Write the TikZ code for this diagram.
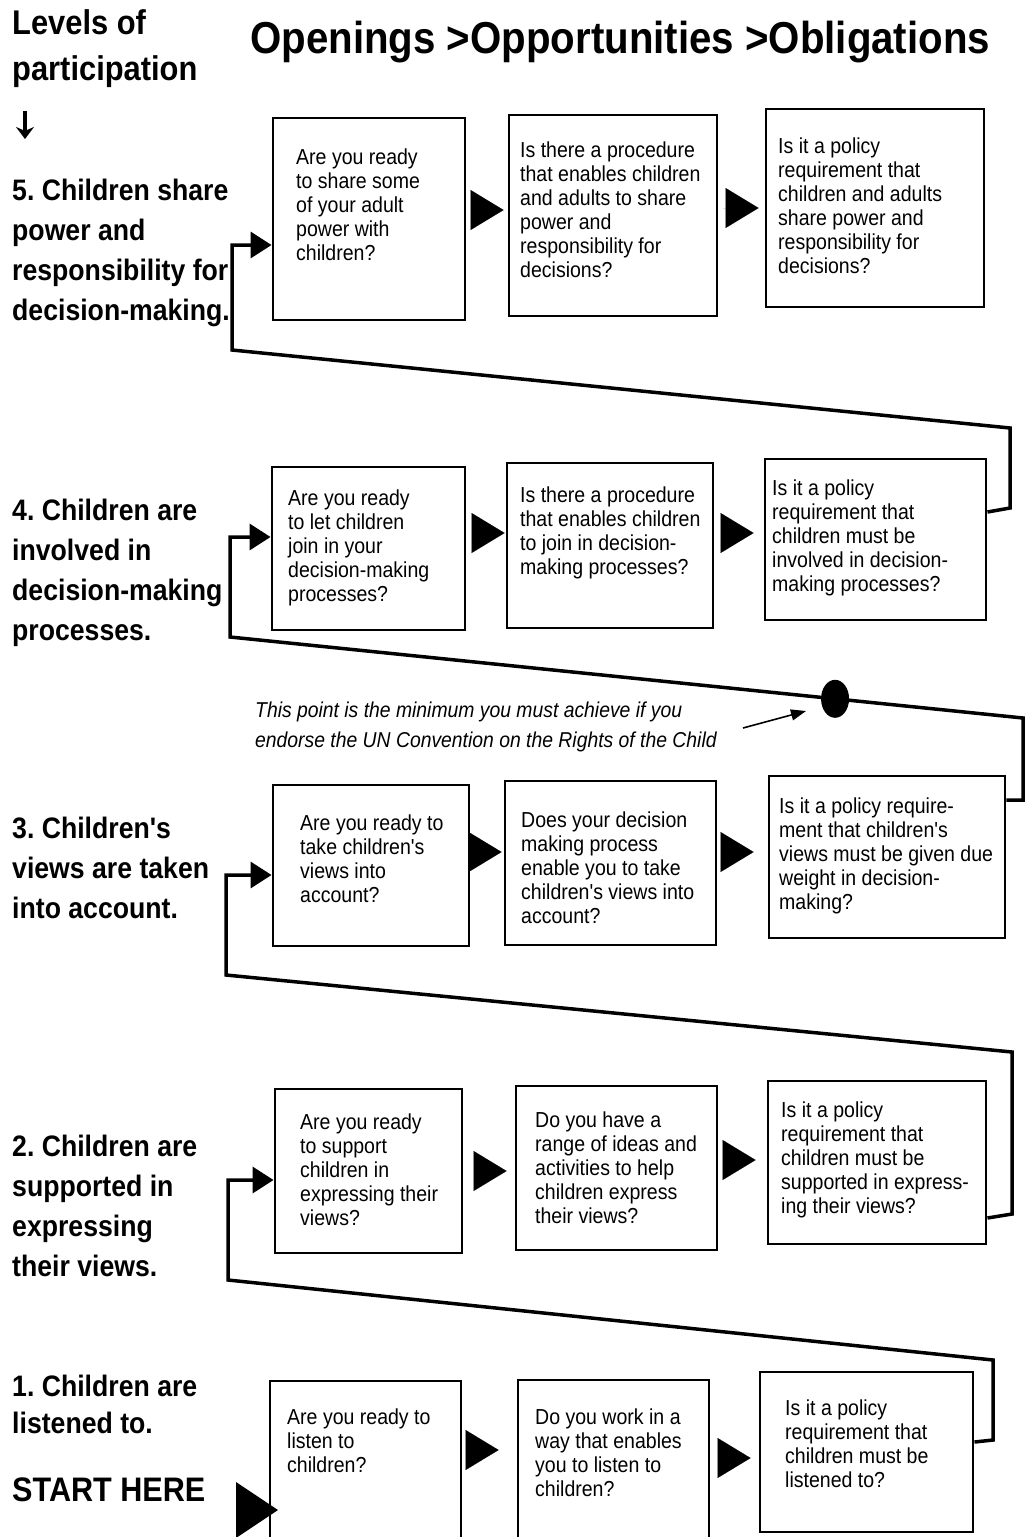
\documentclass[tikz,border=0pt]{standalone}
\usepackage{fontspec}
\setmainfont{Liberation Sans}
\newfontfamily\cond[FakeStretch=0.9]{Liberation Sans}
\usetikzlibrary{arrows.meta,shapes.geometric,calc}
\frenchspacing
\begin{document}
\frenchspacing
\begin{tikzpicture}[x=1pt,y=-1pt,
  box/.style={draw, line width=2.9pt, inner sep=0pt},
  qtext/.style={anchor=north west, inner sep=0pt, align=left, font=\cond\fontsize{21.7}{24}\selectfont},
  lvl/.style={anchor=north west, inner sep=0pt, align=left, font=\cond\bfseries\fontsize{29.6}{40}\selectfont},
  tri/.style={-{Triangle[length=33pt,width=40pt]}, line width=0.01pt},
  conn/.style={line width=3.5pt, line join=miter, -{Triangle[length=21pt,width=26pt]}},
]
\useasboundingbox (0,0) rectangle (1028,1537);
\fill[white] (0,0) rectangle (1028,1537);
\clip (0,0) rectangle (1028,1537);

% headings
\node[anchor=north west, inner sep=0pt, align=left, font=\cond\bfseries\fontsize{34.3}{46}\selectfont] (levels) at (12,9) {Levels of\\participation};
\node[anchor=base west, inner sep=0pt, font=\cond\bfseries\fontsize{44.7}{50}\selectfont] (title) at (250,53) {Openings >Opportunities >Obligations};
\draw[line width=3.5pt, -{Stealth[length=12pt,width=18pt]}] (25,111) -- (25,139);

% level labels
\node[lvl] (L5) at (12,179) {5. Children share\\power and\\responsibility for\\decision-making.};
\node[lvl] (L4) at (12,499) {4. Children are\\involved in\\decision-making\\processes.};
\node[lvl] (L3) at (12,817) {3. Children's\\views are taken\\into account.};
\node[lvl] (L2) at (12,1135) {2. Children are\\supported in\\expressing\\their views.};
\node[lvl, font=\cond\bfseries\fontsize{29.6}{37}\selectfont] (L1) at (12,1375) {1. Children are\\listened to.};
\node[anchor=west, inner sep=0pt, font=\cond\bfseries\fontsize{34}{40}\selectfont] (start) at (12,1490) {START HERE};

% boxes
\node[box, minimum width=192, minimum height=202] (A5) at (369,219) {};
\node[box, minimum width=208, minimum height=201] (B5) at (613,215.5) {};
\node[box, minimum width=218, minimum height=198] (C5) at (875,208) {};
\node[box, minimum width=193, minimum height=163] (A4) at (368.5,548.5) {};
\node[box, minimum width=206, minimum height=165] (B4) at (610,545.5) {};
\node[box, minimum width=221, minimum height=161] (C4) at (875.5,539.5) {};
\node[box, minimum width=196, minimum height=161] (A3) at (371,865.5) {};
\node[box, minimum width=211, minimum height=164] (B3) at (610.5,863) {};
\node[box, minimum width=236, minimum height=162] (C3) at (887,857) {};
\node[box, minimum width=187, minimum height=164] (A2) at (368.5,1171) {};
\node[box, minimum width=201, minimum height=164] (B2) at (616.5,1168) {};
\node[box, minimum width=218, minimum height=163] (C2) at (877,1162.5) {};
\node[box, minimum width=191, minimum height=179] (A1) at (365.5,1470.5) {};
\node[box, minimum width=191, minimum height=180] (B1) at (613.5,1470) {};
\node[box, minimum width=213, minimum height=160] (C1) at (866.5,1452) {};

% box texts
\node[qtext] (tA5) at (296,149) {Are you ready\\to share some\\of your adult\\power with\\children?};
\node[qtext] (tB5) at (520,142) {Is there a procedure\\that enables children\\and adults to share\\power and\\responsibility for\\decisions?};
\node[qtext] (tC5) at (778,138) {Is it a policy\\requirement that\\children and adults\\share power and\\responsibility for\\decisions?};
\node[qtext] (tA4) at (288,490) {Are you ready\\to let children\\join in your\\decision-making\\processes?};
\node[qtext] (tB4) at (520,487) {Is there a procedure\\that enables children\\to join in decision-\\making processes?};
\node[qtext] (tC4) at (772,480) {Is it a policy\\requirement that\\children must be\\involved in decision-\\making processes?};
\node[qtext] (tA3) at (300,815) {Are you ready to\\take children's\\views into\\account?};
\node[qtext] (tB3) at (521,812) {Does your decision\\making process\\enable you to take\\children's views into\\account?};
\node[qtext] (tC3) at (779,798) {Is it a policy require-\\ment that children's\\views must be given due\\weight in decision-\\making?};
\node[qtext] (tA2) at (300,1114) {Are you ready\\to support\\children in\\expressing their\\views?};
\node[qtext] (tB2) at (535,1112) {Do you have a\\range of ideas and\\activities to help\\children express\\their views?};
\node[qtext] (tC2) at (781,1102) {Is it a policy\\requirement that\\children must be\\supported in express-\\ing their views?};
\node[qtext] (tA1) at (287,1409) {Are you ready to\\listen to\\children?};
\node[qtext] (tB1) at (535,1409) {Do you work in a\\way that enables\\you to listen to\\children?};
\node[qtext] (tC1) at (785,1400) {Is it a policy\\requirement that\\children must be\\listened to?};

% triangles between boxes
\draw[tri, shorten <=5pt, shorten >=4pt] ($(A5.east)+(0,-9)$) -- ($(A5.east -| B5.west)+(0,-9)$);
\draw[tri, shorten <=5pt, shorten >=6pt] ($(B5.east)+(0,-7.5)$) -- ($(B5.east -| C5.west)+(0,-7.5)$);
\draw[tri, shorten <=8pt, shorten >=1pt] ($(A4.east)+(0,-15.5)$) -- ($(A4.east -| B4.west)+(0,-15.5)$);
\draw[tri, shorten <=9pt, shorten >=10pt] ($(B4.east)+(0,-12.5)$) -- ($(B4.east -| C4.west)+(0,-12.5)$);
\draw[tri, shorten <=1pt, shorten >=2pt] ($(A3.east)+(0,-13.5)$) -- ($(A3.east -| B3.west)+(0,-13.5)$);
\draw[tri, shorten <=4pt, shorten >=14pt] ($(B3.east)+(0,-11)$) -- ($(B3.east -| C3.west)+(0,-11)$);
\draw[tri, shorten <=13pt, shorten >=8pt] ($(A2.east)+(0,0)$) -- ($(A2.east -| B2.west)+(0,0)$);
\draw[tri, shorten <=5pt, shorten >=11pt] ($(B2.east)+(0,-8)$) -- ($(B2.east -| C2.west)+(0,-8)$);
\draw[tri, shorten <=4pt, shorten >=18pt] ($(A1.east)+(0,-20.5)$) -- ($(A1.east -| B1.west)+(0,-20.5)$);
\draw[tri, shorten <=9pt, shorten >=8pt] ($(B1.east)+(0,-12)$) -- ($(B1.east -| C1.west)+(0,-12)$);

% start triangle
\fill (236,1482) -- (278,1510) -- (236,1538) -- cycle;

% connectors between levels
\draw[conn] ($(C1.east)+(0,-10)$) -- (993,1440) -- (993,1360) -- (228,1280) -- (228,1180) -- (A2.west |- 0,1180);
\draw[conn] ($(C2.east)+(0,55.5)$) -- (1012,1214) -- (1012,1052) -- (226,975) -- (226,875) -- (A3.west |- 0,875);
\coordinate (d1) at (1023,718);
\coordinate (d2) at (230,637);
\draw[conn] ($(C3.east)+(0,-57)$) -- (1023,800) -- (d1) -- (d2) -- (230,537) -- (A4.west |- 0,537);
\draw[conn] ($(C4.east)+(0,-27.5)$) -- (1010,508) -- (1010,428) -- (232,350) -- (232,245) -- (A5.west |- 0,245);

% minimum point
\node[ellipse, fill, inner sep=0pt, minimum width=28, minimum height=38] (dot) at ($(d1)!0.237!(d2)$) {};
\node[anchor=north west, inner sep=0pt, align=left, font=\cond\itshape\fontsize{21.5}{30}\selectfont] (note) at (255,702) {This point is the minimum you must achieve if you\\endorse the UN Convention on the Rights of the Child};
\coordinate (ns) at (743,728);
\coordinate (ne) at (806,711);
\draw[line width=1.6pt, -{Triangle[length=15pt,width=11pt]}] (ns) -- (ne);
\end{tikzpicture}
\end{document}
